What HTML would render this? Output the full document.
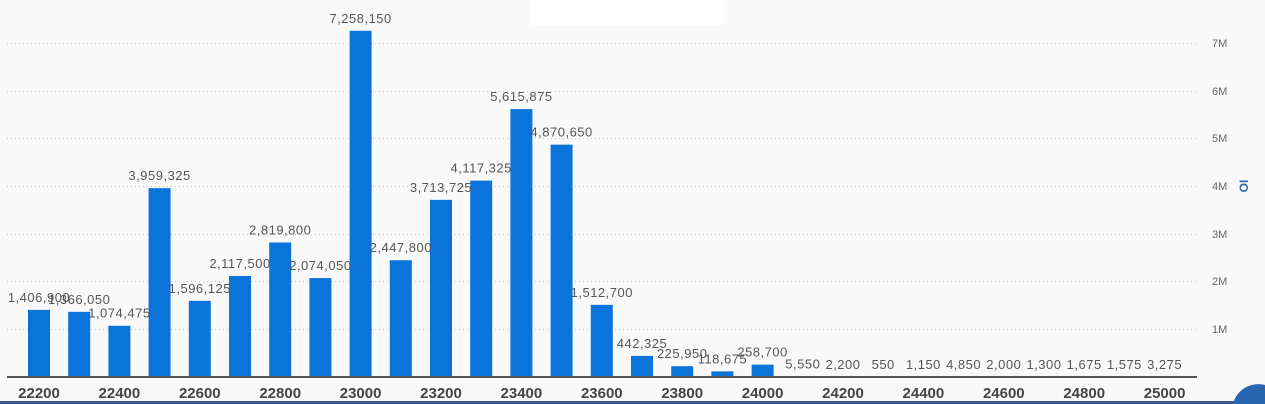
<!DOCTYPE html>
<html><head><meta charset="utf-8"><style>
html,body{margin:0;padding:0;background:#f9f9f9;width:1265px;height:404px;overflow:hidden;}
svg{display:block;font-family:"Liberation Sans",sans-serif;}
</style></head><body>
<svg width="1265" height="404" viewBox="0 0 1265 404" xmlns="http://www.w3.org/2000/svg">
<rect width="1265" height="404" fill="#f9f9f9"/>
<rect x="530" y="0" width="193" height="25" fill="#ffffff"/>
<g stroke="#c8c8c8" stroke-dasharray="1,3" stroke-width="1">
<line x1="7" x2="1197" y1="43.5" y2="43.5"/>
<line x1="7" x2="1197" y1="91.5" y2="91.5"/>
<line x1="7" x2="1197" y1="138.5" y2="138.5"/>
<line x1="7" x2="1197" y1="186.5" y2="186.5"/>
<line x1="7" x2="1197" y1="234.5" y2="234.5"/>
<line x1="7" x2="1197" y1="281.5" y2="281.5"/>
<line x1="7" x2="1197" y1="329.5" y2="329.5"/>
</g>
<g fill="#666" font-size="11" text-anchor="start">
<text x="1212" y="47">7M</text><text x="1212" y="95">6M</text><text x="1212" y="142">5M</text>
<text x="1212" y="190">4M</text><text x="1212" y="238">3M</text><text x="1212" y="285">2M</text><text x="1212" y="333">1M</text>
</g>
<text x="1248" y="186" fill="#2a6aaa" font-size="12" font-weight="bold" transform="rotate(-90 1248 186)" text-anchor="middle">OI</text>
<g id="bars" fill="#0a74da"></g>
<g id="vals" fill="#555" font-size="13" text-anchor="middle" letter-spacing="0.5"></g>
<line x1="7" x2="1197" y1="377" y2="377" stroke="#555" stroke-width="2"/>
<g id="cats" fill="#444" font-size="15" font-weight="bold" text-anchor="middle"></g>
<rect x="0" y="401" width="1265" height="3" fill="#3a5a90"/>
<path d="M1233 404 A26 26 0 0 1 1265 385 L1265 404 Z" fill="#2a66b0"/>
<script>
var v=[1406900,1366050,1074475,3959325,1596125,2117500,2819800,2074050,7258150,2447800,3713725,4117325,5615875,4870650,1512700,442325,225950,118675,258700,5550,2200,550,1150,4850,2000,1300,1675,1575,3275];
var ns="http://www.w3.org/2000/svg",b=document.getElementById('bars'),t=document.getElementById('vals'),c=document.getElementById('cats');
var base=377,k=47.7/1e6;
v.forEach(function(x,i){var cx=39+i*40.2,h=x*k,y=base-h;
var r=document.createElementNS(ns,'rect');r.setAttribute('x',cx-11);r.setAttribute('y',y);r.setAttribute('width',22);r.setAttribute('height',h);b.appendChild(r);
var s=document.createElementNS(ns,'text');s.setAttribute('x',cx);s.setAttribute('y',Math.min(y-8,370));s.textContent=x.toLocaleString('en-US');t.appendChild(s);
if(i%2==0){var q=document.createElementNS(ns,'text');q.setAttribute('x',cx);q.setAttribute('y',398);q.textContent=22200+i*100;c.appendChild(q);}
});
</script>
</svg>
</body></html>
